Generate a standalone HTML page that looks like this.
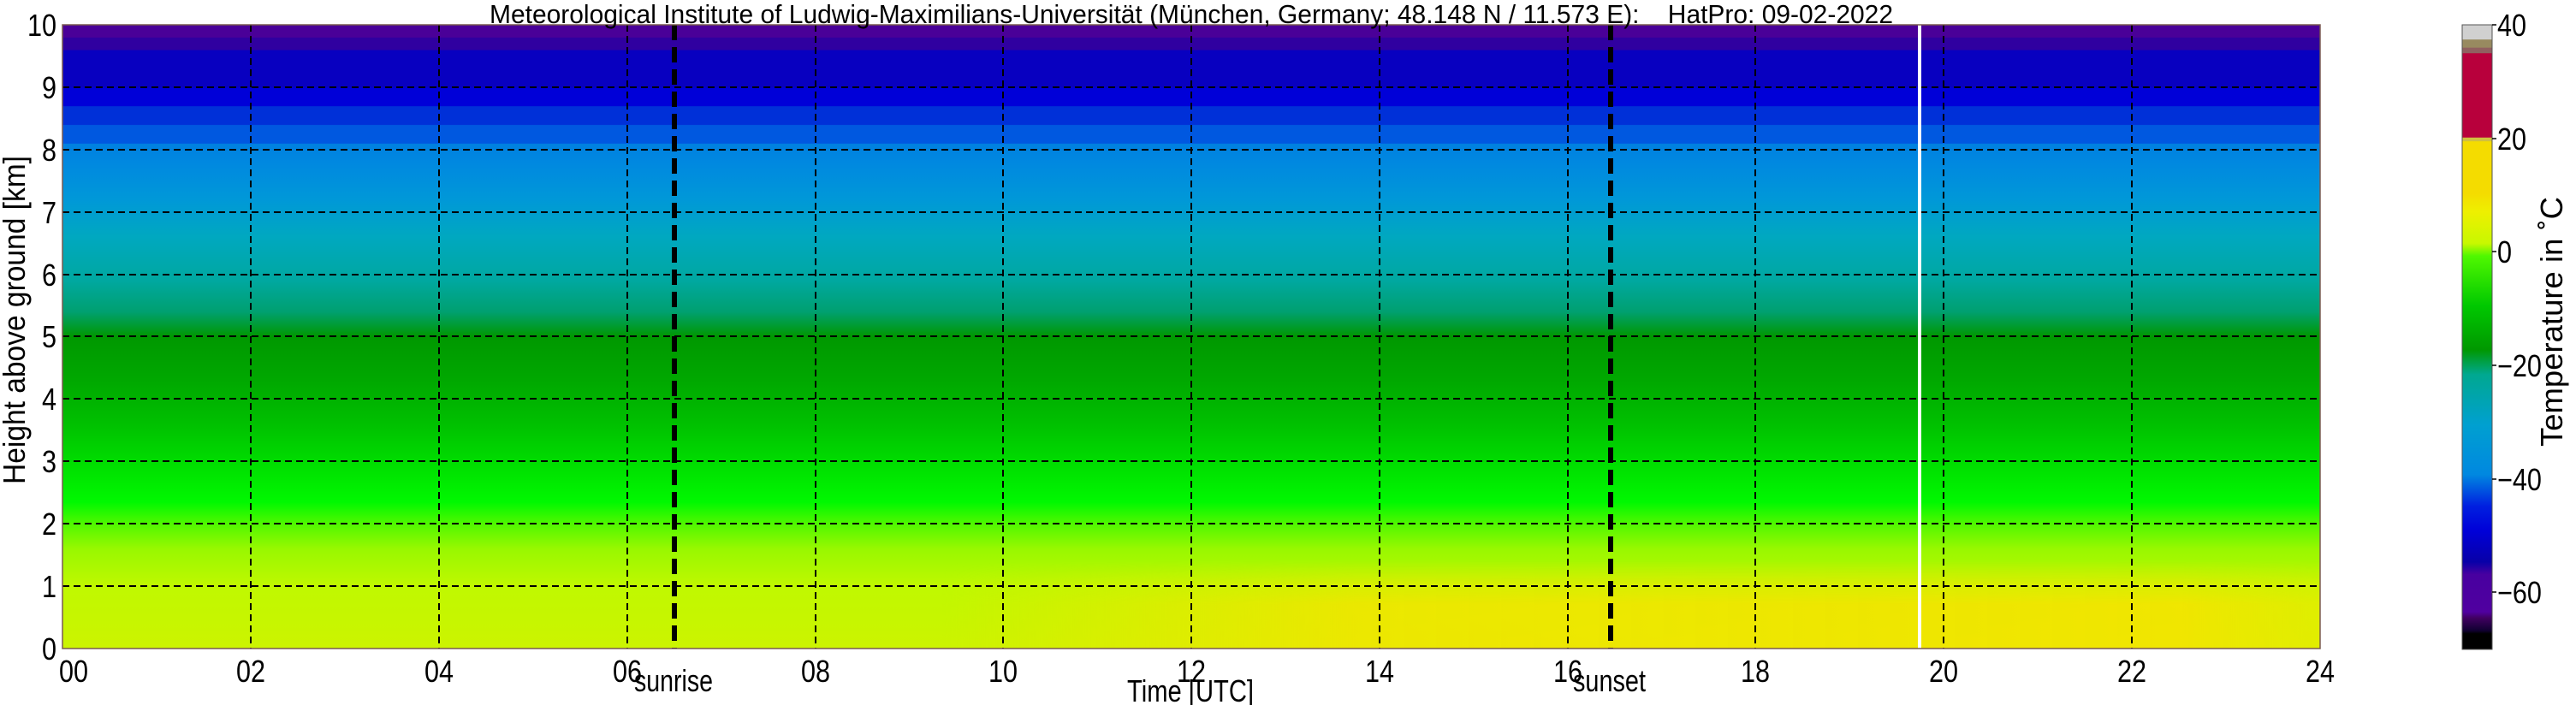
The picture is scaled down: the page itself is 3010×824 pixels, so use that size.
<!DOCTYPE html>
<html><head><meta charset="utf-8"><style>
html,body{margin:0;padding:0;background:#fff;}
svg{display:block;font-family:"Liberation Sans","DejaVu Sans",sans-serif;}
</style></head><body>
<svg width="3010" height="824" viewBox="0 0 3010 824" xmlns="http://www.w3.org/2000/svg">
<defs>
<linearGradient id="vg" x1="0" y1="0" x2="0" y2="1">
<stop offset="0" stop-color="#4a0098"/><stop offset="0.02" stop-color="#4a0098"/>
<stop offset="0.021" stop-color="#3000a0"/><stop offset="0.04" stop-color="#3000a0"/>
<stop offset="0.041" stop-color="#0800c0"/><stop offset="0.10" stop-color="#0800c0"/>
<stop offset="0.101" stop-color="#0000d8"/><stop offset="0.13" stop-color="#0000d8"/>
<stop offset="0.131" stop-color="#0030d8"/><stop offset="0.16" stop-color="#0030d8"/>
<stop offset="0.161" stop-color="#0058e0"/><stop offset="0.19" stop-color="#0058e0"/>
<stop offset="0.191" stop-color="#0080e0"/><stop offset="0.22" stop-color="#0088e0"/>
<stop offset="0.28" stop-color="#0098d8"/>
<stop offset="0.34" stop-color="#00a8c0"/>
<stop offset="0.41" stop-color="#00a8a0"/>
<stop offset="0.46" stop-color="#00a070"/>
<stop offset="0.50" stop-color="#009800"/>
<stop offset="0.57" stop-color="#00a800"/>
<stop offset="0.64" stop-color="#00c000"/>
<stop offset="0.70" stop-color="#00dc00"/>
<stop offset="0.765" stop-color="#00f800"/>
<stop offset="0.80" stop-color="#50f800"/>
<stop offset="0.84" stop-color="#98f800"/>
<stop offset="0.90" stop-color="#c0f800"/>
<stop offset="1" stop-color="#ccf400"/>
</linearGradient>
<linearGradient id="hy" x1="0" y1="0" x2="1" y2="0">
<stop offset="0" stop-color="#f4e400" stop-opacity="0"/>
<stop offset="0.3" stop-color="#f4e400" stop-opacity="0.8"/>
<stop offset="0.9" stop-color="#f4e400" stop-opacity="0.9"/>
<stop offset="1" stop-color="#f0e800" stop-opacity="0.6"/>
</linearGradient>
<linearGradient id="vy" x1="0" y1="0" x2="0" y2="1">
<stop offset="0" stop-color="#fff" stop-opacity="0"/>
<stop offset="0.5" stop-color="#fff" stop-opacity="1"/>
<stop offset="1" stop-color="#fff" stop-opacity="1"/>
</linearGradient>
<mask id="m"><rect x="1100" y="655" width="1611" height="103" fill="url(#vy)"/></mask>
<linearGradient id="cb" x1="0" y1="0" x2="0" y2="1">
<stop offset="0" stop-color="#d0d0d0"/><stop offset="0.023" stop-color="#d0d0d0"/>
<stop offset="0.024" stop-color="#988a60"/><stop offset="0.036" stop-color="#988a60"/>
<stop offset="0.037" stop-color="#906060"/><stop offset="0.045" stop-color="#906060"/>
<stop offset="0.046" stop-color="#b8003c"/><stop offset="0.180" stop-color="#b8003c"/>
<stop offset="0.181" stop-color="#d0c040"/><stop offset="0.186" stop-color="#d0c040"/>
<stop offset="0.187" stop-color="#f4dc00"/><stop offset="0.27" stop-color="#f4dc00"/>
<stop offset="0.30" stop-color="#eef000"/>
<stop offset="0.35" stop-color="#c8f800"/>
<stop offset="0.37" stop-color="#50f800"/>
<stop offset="0.45" stop-color="#00c800"/>
<stop offset="0.52" stop-color="#009800"/>
<stop offset="0.56" stop-color="#00a890"/>
<stop offset="0.64" stop-color="#00a0d0"/>
<stop offset="0.72" stop-color="#0088e0"/>
<stop offset="0.77" stop-color="#0020e0"/>
<stop offset="0.81" stop-color="#0000d8"/>
<stop offset="0.86" stop-color="#0800a8"/>
<stop offset="0.88" stop-color="#4800a0"/>
<stop offset="0.94" stop-color="#5000a0"/>
<stop offset="0.95" stop-color="#400060"/>
<stop offset="0.97" stop-color="#100030"/><stop offset="0.975" stop-color="#000"/><stop offset="1" stop-color="#000"/>
</linearGradient>
</defs>

<rect x="73" y="29" width="2638" height="729" fill="url(#vg)"/>
<rect x="1100" y="655" width="1611" height="103" fill="url(#hy)" mask="url(#m)"/>

<g stroke="#000" stroke-width="2" stroke-dasharray="8,5" fill="none">
<line x1="293" y1="29" x2="293" y2="758"/><line x1="513" y1="29" x2="513" y2="758"/>
<line x1="733" y1="29" x2="733" y2="758"/><line x1="953" y1="29" x2="953" y2="758"/>
<line x1="1172" y1="29" x2="1172" y2="758"/><line x1="1392" y1="29" x2="1392" y2="758"/>
<line x1="1612" y1="29" x2="1612" y2="758"/><line x1="1832" y1="29" x2="1832" y2="758"/>
<line x1="2051" y1="29" x2="2051" y2="758"/><line x1="2271" y1="29" x2="2271" y2="758"/>
<line x1="2491" y1="29" x2="2491" y2="758"/>
<line x1="73" y1="685" x2="2711" y2="685"/><line x1="73" y1="612" x2="2711" y2="612"/>
<line x1="73" y1="539" x2="2711" y2="539"/><line x1="73" y1="466" x2="2711" y2="466"/>
<line x1="73" y1="393" x2="2711" y2="393"/><line x1="73" y1="321" x2="2711" y2="321"/>
<line x1="73" y1="248" x2="2711" y2="248"/><line x1="73" y1="175" x2="2711" y2="175"/>
<line x1="73" y1="102" x2="2711" y2="102"/>
</g>
<rect x="2241" y="29" width="4" height="729" fill="#fff"/>
<g stroke="#000" stroke-width="6" stroke-dasharray="18,8">
<line x1="788" y1="29" x2="788" y2="758"/><line x1="1882" y1="29" x2="1882" y2="758"/>
</g>
<rect x="73" y="29" width="2638" height="729" fill="none" stroke="#7a5a50" stroke-width="1.5"/>

<g font-size="36" fill="#000" text-anchor="middle">
<text transform="translate(86,797) scale(0.85,1)">00</text>
<text transform="translate(293,797) scale(0.85,1)">02</text>
<text transform="translate(513,797) scale(0.85,1)">04</text>
<text transform="translate(733,797) scale(0.85,1)">06</text>
<text transform="translate(953,797) scale(0.85,1)">08</text>
<text transform="translate(1172,797) scale(0.85,1)">10</text>
<text transform="translate(1392,797) scale(0.85,1)">12</text>
<text transform="translate(1612,797) scale(0.85,1)">14</text>
<text transform="translate(1832,797) scale(0.85,1)">16</text>
<text transform="translate(2051,797) scale(0.85,1)">18</text>
<text transform="translate(2271,797) scale(0.85,1)">20</text>
<text transform="translate(2491,797) scale(0.85,1)">22</text>
<text transform="translate(2711,797) scale(0.85,1)">24</text>
</g>
<g font-size="36" fill="#000" text-anchor="end">
<text transform="translate(66,771) scale(0.85,1)">0</text>
<text transform="translate(66,698) scale(0.85,1)">1</text>
<text transform="translate(66,625) scale(0.85,1)">2</text>
<text transform="translate(66,552) scale(0.85,1)">3</text>
<text transform="translate(66,479) scale(0.85,1)">4</text>
<text transform="translate(66,406) scale(0.85,1)">5</text>
<text transform="translate(66,334) scale(0.85,1)">6</text>
<text transform="translate(66,261) scale(0.85,1)">7</text>
<text transform="translate(66,188) scale(0.85,1)">8</text>
<text transform="translate(66,115) scale(0.85,1)">9</text>
<text transform="translate(66,42) scale(0.85,1)">10</text>
</g>
<g font-size="36" fill="#000">
<text x="741" y="808" textLength="92" lengthAdjust="spacingAndGlyphs">sunrise</text>
<text x="1838" y="808" textLength="85" lengthAdjust="spacingAndGlyphs">sunset</text>
<text x="1317" y="820" textLength="148" lengthAdjust="spacingAndGlyphs">Time [UTC]</text>
<text transform="translate(29,566) rotate(-90)" textLength="384" lengthAdjust="spacingAndGlyphs">Height above ground [km]</text>
<text transform="translate(2994,522) rotate(-90)" textLength="292" lengthAdjust="spacingAndGlyphs">Temperature in ˚C</text>
</g>
<text x="572" y="27" font-size="31" xml:space="preserve" textLength="1640" lengthAdjust="spacingAndGlyphs">Meteorological Institute of Ludwig-Maximilians-Universität (München, Germany; 48.148 N / 11.573 E):    HatPro: 09-02-2022</text>

<rect x="2877" y="29" width="35" height="730" fill="url(#cb)" stroke="#555" stroke-width="1"/>
<g font-size="36" fill="#000">
<text transform="translate(2918,42) scale(0.85,1)">40</text>
<text transform="translate(2918,175) scale(0.85,1)">20</text>
<text transform="translate(2918,307) scale(0.85,1)">0</text>
<text transform="translate(2918,440) scale(0.85,1)">−20</text>
<text transform="translate(2918,573) scale(0.85,1)">−40</text>
<text transform="translate(2918,705) scale(0.85,1)">−60</text>
</g>
<g stroke="#000" stroke-width="1.5">
<line x1="2912" y1="29" x2="2917" y2="29"/><line x1="2912" y1="162" x2="2917" y2="162"/>
<line x1="2912" y1="294" x2="2917" y2="294"/><line x1="2912" y1="427" x2="2917" y2="427"/>
<line x1="2912" y1="560" x2="2917" y2="560"/><line x1="2912" y1="692" x2="2917" y2="692"/>
</g>
</svg>
</body></html>
